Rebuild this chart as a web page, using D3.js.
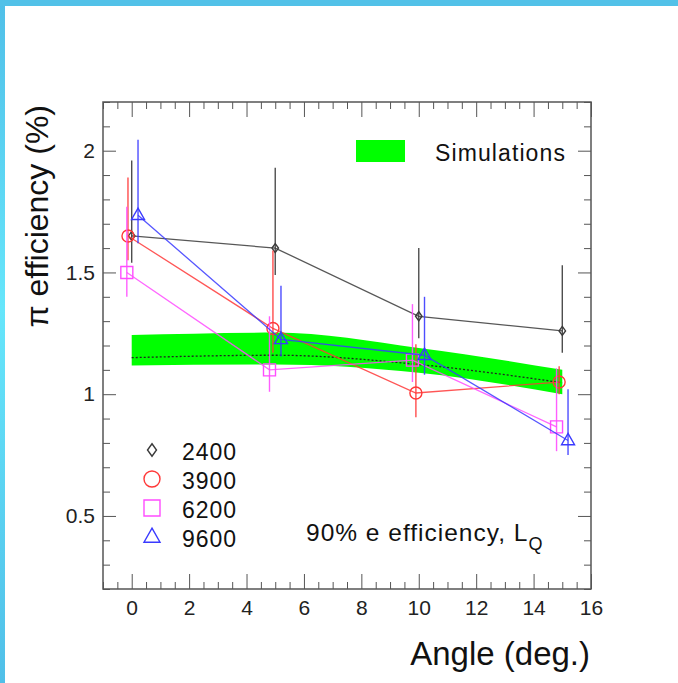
<!DOCTYPE html>
<html>
<head>
<meta charset="utf-8">
<script src="https://cdn.jsdelivr.net/npm/d3@7"></script>
<style>
  html, body { margin: 0; padding: 0; background: #fff; }
  svg { display: block; font-family: "Liberation Sans", Arial, sans-serif; }
</style>
</head>
<body>
<div id="chart"></div>
<script>
// Data
const simAngle = [0, 5, 10, 15];
const simLow = [1.118, 1.122, 1.088, 1.0];
const simHigh = [1.243, 1.253, 1.19, 1.10];
const simMean = [1.15, 1.16, 1.122, 1.047];

const labels = ["2400", "3900", "6200", "9600"];

const angle2400 = [0, 5, 10, 15];
const eff2400 = [1.65, 1.60, 1.32, 1.26];
const up2400 = [0.31, 0.33, 0.28, 0.27];
const dn2400 = [0.11, 0.11, 0.09, 0.09];

const angle3900 = [-0.13, 4.92, 9.9, 14.89];
const eff3900 = [1.65, 1.27, 1.005, 1.05];
const up3900 = [0.24, 0.32, 0.2, 0.065];
const dn3900 = [0.1, 0.1, 0.1, 0.05];

const angle6200 = [-0.17, 4.8, 9.78, 14.8];
const eff6200 = [1.5, 1.10, 1.14, 0.866];
const up6200 = [0.27, 0.22, 0.23, 0.24];
const dn6200 = [0.1, 0.09, 0.09, 0.1];

const angle9600 = [0.22, 5.2, 10.2, 15.2];
const eff9600 = [1.735, 1.225, 1.16, 0.81];
const up9600 = [0.31, 0.22, 0.24, 0.21];
const dn9600 = [0.115, 0.07, 0.08, 0.06];

const xMajor = [0, 2, 4, 6, 8, 10, 12, 14, 16];
const yMajor = [0.5, 1, 1.5, 2];

const width = 678, height = 683;

const svg = d3.select("#chart").append("svg")
    .attr("width", width)
    .attr("height", height);

// blue page border
const grad = svg.append("defs").append("linearGradient")
    .attr("id", "edge").attr("x1", 0).attr("y1", 0).attr("x2", 0).attr("y2", 1);
grad.append("stop").attr("offset", "0%").attr("stop-color", "#50bfe8");
grad.append("stop").attr("offset", "45%").attr("stop-color", "#66e6fb");
grad.append("stop").attr("offset", "100%").attr("stop-color", "#50bfe8");
svg.append("rect").attr("x", 0).attr("y", 0).attr("width", 5).attr("height", height).attr("fill", "url(#edge)");
svg.append("rect").attr("x", 0).attr("y", 0).attr("width", width).attr("height", 6).attr("fill", "#52c1e8");

const x = d3.scaleLinear().domain([-1, 16]).range([103, 591]);
const y = d3.scaleLinear().domain([0.2, 2.2]).range([589, 102]);

const xMinor = d3.range(-1, 16.01, 0.5).filter(v => !xMajor.includes(v));
const yMinor = d3.range(2, 23).map(v => v / 10).filter(v => !yMajor.includes(v));

const tickColor = "#555";

function styleAxis(g) {
    g.select(".domain").remove();
    g.selectAll("line").attr("stroke", tickColor);
    g.selectAll("text").attr("fill", "#222").style("font-size", "21px");
}

// bottom
svg.append("g").attr("transform", `translate(0,${y.range()[0]})`)
    .call(d3.axisBottom(x).tickValues(xMajor).tickSizeInner(-15).tickSizeOuter(0).tickPadding(11).tickFormat(d3.format("d")))
    .call(styleAxis);
svg.append("g").attr("transform", `translate(0,${y.range()[0]})`)
    .call(d3.axisBottom(x).tickValues(xMinor).tickSize(-7).tickFormat(""))
    .call(styleAxis);
// top
svg.append("g").attr("transform", `translate(0,${y.range()[1]})`)
    .call(d3.axisTop(x).tickValues(xMajor).tickSize(-15).tickFormat(""))
    .call(styleAxis);
svg.append("g").attr("transform", `translate(0,${y.range()[1]})`)
    .call(d3.axisTop(x).tickValues(xMinor).tickSize(-7).tickFormat(""))
    .call(styleAxis);
// left
svg.append("g").attr("transform", `translate(${x.range()[0]},0)`)
    .call(d3.axisLeft(y).tickValues(yMajor).tickSizeInner(-13).tickSizeOuter(0).tickPadding(8).tickFormat(d3.format("")))
    .call(styleAxis);
svg.append("g").attr("transform", `translate(${x.range()[0]},0)`)
    .call(d3.axisLeft(y).tickValues(yMinor).tickSize(-7).tickFormat(""))
    .call(styleAxis);
// right
svg.append("g").attr("transform", `translate(${x.range()[1]},0)`)
    .call(d3.axisRight(y).tickValues(yMajor).tickSize(-13).tickFormat(""))
    .call(styleAxis);
svg.append("g").attr("transform", `translate(${x.range()[1]},0)`)
    .call(d3.axisRight(y).tickValues(yMinor).tickSize(-7).tickFormat(""))
    .call(styleAxis);

// frame
svg.append("rect")
    .attr("x", x.range()[0]).attr("y", y.range()[1])
    .attr("width", x.range()[1] - x.range()[0])
    .attr("height", y.range()[0] - y.range()[1])
    .attr("fill", "none").attr("stroke", "#555").attr("stroke-width", 1.5);

// simulation band
const simData = simAngle.map((a, i) => ({ a, lo: simLow[i], hi: simHigh[i], m: simMean[i] }));
svg.append("path")
    .datum(simData)
    .attr("d", d3.area().x(d => x(d.a)).y0(d => y(d.lo)).y1(d => y(d.hi)).curve(d3.curveMonotoneX))
    .attr("fill", "#00ff00");
svg.append("path")
    .datum(simData)
    .attr("d", d3.line().x(d => x(d.a)).y(d => y(d.m)).curve(d3.curveMonotoneX))
    .attr("fill", "none").attr("stroke", "#222").attr("stroke-width", 1.3)
    .attr("stroke-dasharray", "2,2");

// measured series
const series = [
    { name: labels[0], color: "#3a3a3a", shape: "diamond", xs: angle2400, ys: eff2400, up: up2400, dn: dn2400 },
    { name: labels[1], color: "#ff3838", shape: "circle", xs: angle3900, ys: eff3900, up: up3900, dn: dn3900 },
    { name: labels[2], color: "#ff4cff", shape: "square", xs: angle6200, ys: eff6200, up: up6200, dn: dn6200 },
    { name: labels[3], color: "#3a3aff", shape: "triangle", xs: angle9600, ys: eff9600, up: up9600, dn: dn9600 }
];

function markerPath(shape, s) {
    if (shape === "diamond") return `M0,${-s * 1.25}L${s * 0.9},0L0,${s * 1.25}L${-s * 0.9},0Z`;
    if (shape === "square") return `M${-s},${-s}H${s}V${s}H${-s}Z`;
    if (shape === "triangle") return `M0,${-s * 1.1}L${s},${s * 0.65}H${-s}Z`;
    return `M${s},0A${s},${s} 0 1,1 ${-s},0A${s},${s} 0 1,1 ${s},0Z`;
}
const plotSize = { diamond: 3.6, circle: 6, square: 6, triangle: 6.5 };
const legSize = { diamond: 5, circle: 8, square: 8, triangle: 8 };

series.forEach(s => {
    const pts = s.xs.map((a, i) => ({ a, v: s.ys[i], up: s.up[i], dn: s.dn[i] }));
    const g = svg.append("g");
    g.append("path")
        .datum(pts)
        .attr("d", d3.line().x(d => x(d.a)).y(d => y(d.v)))
        .attr("fill", "none").attr("stroke", s.color).attr("stroke-width", 1.3)
        .attr("stroke-opacity", 0.85);
    g.selectAll(".err").data(pts).enter().append("line")
        .attr("x1", d => x(d.a)).attr("x2", d => x(d.a))
        .attr("y1", d => y(d.v + d.up)).attr("y2", d => y(d.v - d.dn))
        .attr("stroke", s.color).attr("stroke-width", 1.4).attr("stroke-opacity", 0.9);
    g.selectAll(".mk").data(pts).enter().append("path")
        .attr("transform", d => `translate(${x(d.a)},${y(d.v)})`)
        .attr("d", markerPath(s.shape, plotSize[s.shape]))
        .attr("fill", "none").attr("stroke", s.color).attr("stroke-width", 1.4);
});

// legend for data
series.forEach((s, i) => {
    const by = 460 + i * 29;
    svg.append("path")
        .attr("transform", `translate(152,${by - 10})`)
        .attr("d", markerPath(s.shape, legSize[s.shape]))
        .attr("fill", "none").attr("stroke", s.color).attr("stroke-width", 1.4);
    svg.append("text")
        .attr("x", 182).attr("y", by)
        .style("font-size", "23px").style("letter-spacing", "1px")
        .attr("fill", "#111")
        .text(s.name);
});

// simulation legend
svg.append("rect")
    .attr("x", 356).attr("y", 140).attr("width", 49).attr("height", 22)
    .attr("fill", "#00ff00");
svg.append("text")
    .attr("x", 435).attr("y", 161)
    .style("font-size", "23px").style("letter-spacing", "1.1px")
    .attr("fill", "#111")
    .text("Simulations");

// annotation
const note = svg.append("text")
    .attr("x", 306).attr("y", 541)
    .style("font-size", "24.5px").style("letter-spacing", "1px")
    .attr("fill", "#111");
note.append("tspan").text("90% e efficiency, L");
note.append("tspan").attr("dy", 9).style("font-size", "18px").text("Q");

// axis titles
svg.append("text")
    .attr("x", 590).attr("y", 665)
    .attr("text-anchor", "end")
    .style("font-size", "33px")
    .attr("fill", "#111")
    .text("Angle (deg.)");

svg.append("text")
    .attr("transform", "rotate(-90)")
    .attr("x", -105).attr("y", 48)
    .attr("text-anchor", "end")
    .style("font-size", "32px")
    .attr("fill", "#111")
    .text("π efficiency (%)");
</script>
</body>
</html>
